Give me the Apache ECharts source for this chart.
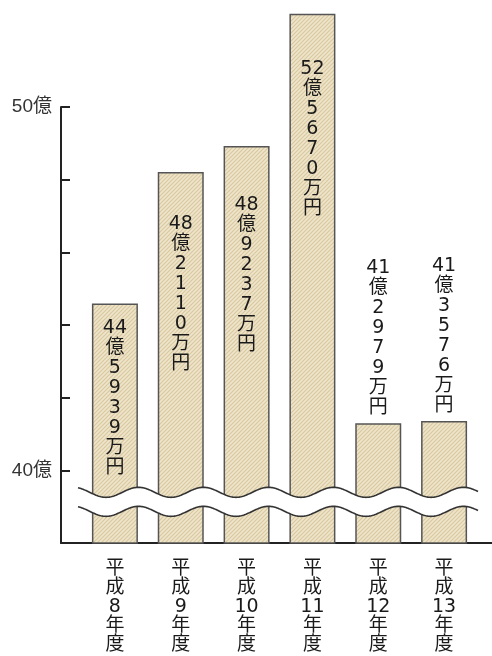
<!DOCTYPE html>
<html>
<head>
<meta charset="utf-8">
<script src="https://cdn.jsdelivr.net/npm/echarts@6/dist/echarts.min.js"></script>
<style>
  html, body { margin: 0; padding: 0; background: #ffffff; }
  #chart { width: 492px; height: 656px; }
</style>
</head>
<body>
<div id="chart"></div>
<script>
// ---- data ----
const categories = ['平成8年度', '平成9年度', '平成10年度', '平成11年度', '平成12年度', '平成13年度'];
const values = [44.5939, 48.2110, 48.9237, 52.5670, 41.2979, 41.3576]; // 億円
const yLabeledTicks = [40, 50];
const yMin = 38, yMax = 50, yInterval = 2;

// ---- styling (not data) ----
const labelPlacement = ['insideTop', 'insideTop', 'insideTop', 'insideTop', 'top', 'top'];
const labelDistance = [15, 42, 49, 45, 5, 5];
const AXIS_LEFT = 61, GRID_LEFT = 82, GRID_RIGHT = 15, AXIS_TOP = 107, GRID_BOTTOM = 113, MAIN_TOP = 5;
const FONT = '"DejaVu Sans", "Noto Sans CJK JP", sans-serif';
const CHART_H = 656;
const pxPerUnit = (CHART_H - AXIS_TOP - GRID_BOTTOM) / (yMax - yMin);
const mainMax = yMax + (AXIS_TOP - MAIN_TOP) / pxPerUnit;

function makePattern() {
  const c = document.createElement('canvas');
  c.width = 4; c.height = 4;
  const g = c.getContext('2d');
  g.fillStyle = '#efe5cb';
  g.fillRect(0, 0, 4, 4);
  g.strokeStyle = '#d8c8a0';
  g.lineWidth = 1.2;
  g.beginPath();
  g.moveTo(0, 4); g.lineTo(4, 0);
  g.moveTo(-1, 1); g.lineTo(1, -1);
  g.moveTo(3, 5); g.lineTo(5, 3);
  g.stroke();
  return c;
}

function splitVertical(name) {
  return (name.match(/\d+|./g) || []).join('\n');
}

function barLabel(v) {
  const total = Math.round(v * 10000);
  const oku = Math.floor(total / 10000);
  const man = String(total % 10000).padStart(4, '0');
  return [String(oku), '億'].concat(man.split('')).concat(['万', '円']).join('\n');
}

const chart = echarts.init(document.getElementById('chart'), null, { renderer: 'canvas' });
const pattern = makePattern();

const seriesData = values.map((v, i) => ({
  value: v,
  label: { position: labelPlacement[i], distance: labelDistance[i] }
}));

chart.setOption({
  animation: false,
  backgroundColor: '#ffffff',
  grid: [
    { left: GRID_LEFT, right: GRID_RIGHT, top: MAIN_TOP, bottom: GRID_BOTTOM },
    { left: AXIS_LEFT, right: 0, top: AXIS_TOP, bottom: GRID_BOTTOM }
  ],
  xAxis: [
    {
      type: 'category',
      gridIndex: 0,
      data: categories,
      axisLine: { show: false },
      axisTick: { show: false },
      axisLabel: {
        interval: 0,
        margin: 17,
        color: '#1a1a1a',
        fontFamily: FONT,
        fontSize: 19,
        lineHeight: 19,
        formatter: splitVertical
      }
    },
    {
      type: 'value',
      gridIndex: 1,
      min: 0, max: 1,
      axisLine: { show: true, onZero: false, lineStyle: { color: '#222', width: 2 } },
      axisTick: { show: false },
      axisLabel: { show: false },
      splitLine: { show: false }
    }
  ],
  yAxis: [
    {
      type: 'value',
      gridIndex: 0,
      min: yMin,
      max: mainMax,
      show: false
    },
    {
      type: 'value',
      gridIndex: 1,
      min: yMin,
      max: yMax,
      interval: yInterval,
      axisLine: { show: true, onZero: false, lineStyle: { color: '#222', width: 2 } },
      axisTick: { show: true, inside: true, length: 9, lineStyle: { color: '#222', width: 2 } },
      splitLine: { show: false },
      axisLabel: {
        margin: 9,
        color: '#333',
        fontFamily: '"Liberation Sans", "Noto Sans CJK JP", sans-serif',
        fontSize: 19,
        formatter: v => (yLabeledTicks.indexOf(v) >= 0 ? v + '億' : '')
      }
    }
  ],
  series: [{
    type: 'bar',
    xAxisIndex: 0,
    yAxisIndex: 0,
    data: seriesData,
    barWidth: 46,
    itemStyle: {
      color: { image: pattern, repeat: 'repeat' },
      borderColor: '#555',
      borderWidth: 1.5
    },
    label: {
      show: true,
      color: '#1a1a1a',
      fontFamily: FONT,
      fontSize: 19,
      lineHeight: 20,
      align: 'center',
      formatter: p => barLabel(p.value)
    }
  }]
});

// ---- axis break decoration ----
const y40 = chart.convertToPixel({ yAxisIndex: 1 }, 40);
const upperC = y40 + 22, lowerC = y40 + 41;
const x0 = GRID_LEFT - 4, x1 = 492 - GRID_RIGHT + 1;
const A = 5, P = 65, xTrough = 106;
function wave(c) {
  const pts = [];
  for (let x = x0; x <= x1; x += 1) {
    pts.push([x, c + A * Math.cos(2 * Math.PI * (x - xTrough) / P)]);
  }
  return pts;
}
const up = wave(upperC), lo = wave(lowerC);
chart.setOption({
  graphic: [
    { type: 'polygon', z: 100, shape: { points: up.concat(lo.slice().reverse()) }, style: { fill: '#ffffff', stroke: null } },
    { type: 'polyline', z: 101, shape: { points: up }, style: { stroke: '#333', lineWidth: 1.6, fill: null } },
    { type: 'polyline', z: 101, shape: { points: lo }, style: { stroke: '#333', lineWidth: 1.6, fill: null } }
  ]
});
</script>
</body>
</html>
